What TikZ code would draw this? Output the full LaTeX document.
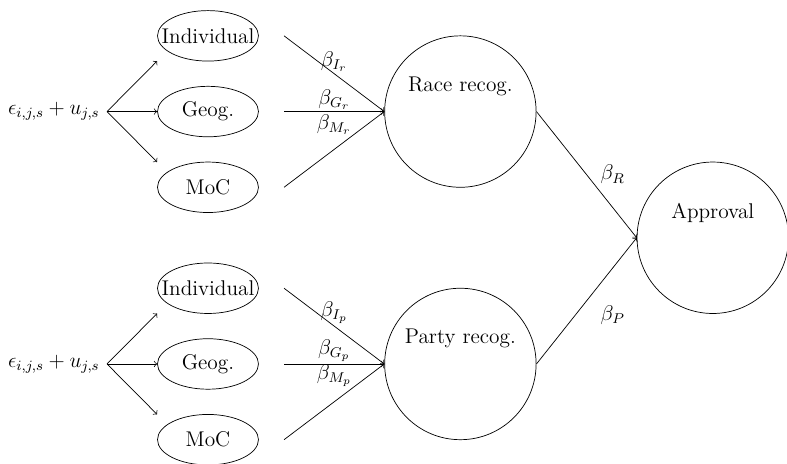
\documentclass[tikz,border=0pt,12pt]{standalone}
\usetikzlibrary{shapes.geometric}
\tikzstyle{factor} = [ellipse, draw, minimum width=2cm, minimum height=1cm]
\tikzstyle{latent} = [circle, draw, minimum size=3cm]
\tikzset{edge/.style = {
    ->,
  }
}

\begin{document}
\begin{tikzpicture}
            \useasboundingbox (-4.12,-6.98) rectangle (11.47,2.21);
            % race recognition
            \node[anchor=east] (er) at (-2 , 0) {$\epsilon_{i,j,s} + u_{j,s}$};
            \node[factor, label=center:Individual] (ir) at (0 , 1.5) {};
            \node[factor, label=center:Geog.] (gr) at (0 , 0) {};
            \node[factor, label=center:MoC] (mr) at (0 , -1.5) {};
            \node[latent, label={[yshift=5mm]center:Race recog.}] (race) at (5 , 0) {};

            % party recognition
            \node[anchor=east] (ep) at (-2 , -5) {$\epsilon_{i,j,s} + u_{j,s}$};
            \node[factor, label=center:Individual] (ip) at (0 , -3.5) {};
            \node[factor, label=center:Geog.] (gp) at (0 , -5) {};
            \node[factor, label=center:MoC] (mp) at (0 , -6.5) {};
            \node[latent, label={[yshift=5mm]center:Party recog.}] (party) at (5 , -5) {};

            % outcome
            \node[latent, label={[yshift=5mm]center:Approval}] (appr) at (10 , -2.5) {};

            %edges
            \draw[edge] (er.east) to ([yshift=1cm]gr.west);
            \draw[edge] (er.east) to (gr.west);
            \draw[edge] (er.east) to ([yshift=-1cm]gr.west);
            \draw[edge] (ep.east) to ([yshift=1cm]gp.west);
            \draw[edge] (ep.east) to (gp.west);
            \draw[edge] (ep.east) to ([yshift=-1cm]gp.west);

            \draw[edge] ([xshift=5mm]ir.east) to node[above=-1mm] {$\beta_{I_r}$} (race.west);
            \draw[edge] ([xshift=5mm]gr.east) to node[above=-1mm] {$\beta_{G_r}$} (race.west);
            \draw[edge] ([xshift=5mm]mr.east) to node[above=1.5mm] {$\beta_{M_r}$} (race.west);
            \draw[edge] ([xshift=5mm]ip.east) to node[above=-1mm] {$\beta_{I_p}$} (party.west);
            \draw[edge] ([xshift=5mm]gp.east) to node[above=-1mm] {$\beta_{G_p}$} (party.west);
            \draw[edge] ([xshift=5mm]mp.east) to node[above=1.5mm] {$\beta_{M_p}$} (party.west);

            \draw[edge] (race.east) to node[right=1.3mm] {$\beta_R$} (appr.west);
            \draw[edge] (party.east) to node[right=1.3mm, yshift=-2.8mm] {$\beta_P$} (appr.west);
\end{tikzpicture}
\end{document}
